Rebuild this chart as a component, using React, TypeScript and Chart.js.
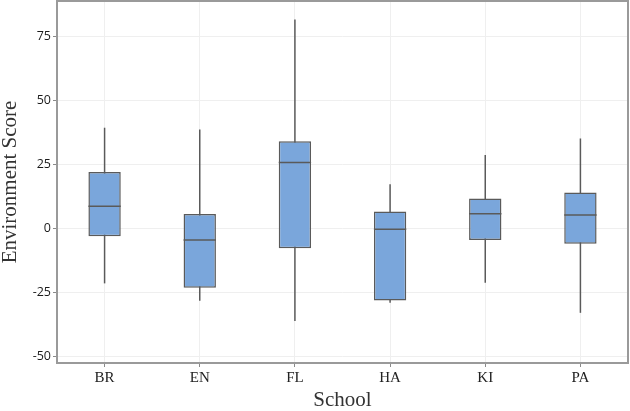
import React, { useEffect, useRef } from "react";
import { Chart, registerables } from "chart.js";

Chart.register(...registerables);

const categories = ["BR", "EN", "FL", "HA", "KI", "PA"];
const whiskerLow = [-21.6, -28.4, -36.3, -29.2, -21.4, -33.1];
const q1 = [-3.2, -23.3, -7.9, -28.3, -4.7, -6.1];
const median = [8.5, -4.7, 25.6, -0.5, 5.6, 5.1];
const q3 = [21.9, 5.5, 33.9, 6.5, 11.6, 13.9];
const whiskerHigh = [39.2, 38.5, 81.5, 17.1, 28.5, 35.0];
const yTicks = [-50, -25, 0, 25, 50, 75];

const LINE = "#5a5a5a";

const boxPlugin = {
  id: "boxParts",
  beforeDatasetsDraw(chart: any) {
    const { ctx, scales } = chart;
    const meta = chart.getDatasetMeta(0);
    ctx.save();
    ctx.strokeStyle = LINE;
    ctx.lineWidth = 1.5;
    meta.data.forEach((bar: any, i: number) => {
      const x = bar.x;
      ctx.beginPath();
      ctx.moveTo(x, scales.y.getPixelForValue(whiskerLow[i]));
      ctx.lineTo(x, scales.y.getPixelForValue(whiskerHigh[i]));
      ctx.stroke();
    });
    ctx.restore();
  },
  afterDatasetsDraw(chart: any) {
    const { ctx, scales, chartArea } = chart;
    const meta = chart.getDatasetMeta(0);
    ctx.save();
    ctx.strokeStyle = LINE;
    ctx.lineWidth = 1.5;
    meta.data.forEach((bar: any, i: number) => {
      const y = scales.y.getPixelForValue(median[i]);
      ctx.beginPath();
      ctx.moveTo(bar.x - bar.width / 2, y);
      ctx.lineTo(bar.x + bar.width / 2, y);
      ctx.stroke();
    });
    ctx.strokeStyle = "#9a9a9a";
    ctx.lineWidth = 2;
    ctx.strokeRect(
      chartArea.left,
      chartArea.top,
      chartArea.right - chartArea.left,
      chartArea.bottom - chartArea.top
    );
    ctx.restore();
  },
};

export default function App() {
  const ref = useRef<HTMLCanvasElement | null>(null);

  useEffect(() => {
    document.body.style.margin = "0";
    const chart = new Chart(ref.current as HTMLCanvasElement, {
      type: "bar",
      data: {
        labels: categories,
        datasets: [
          {
            label: "Environment Score",
            data: categories.map((_, i) => [q1[i], q3[i]]) as any,
            backgroundColor: "#7aa6db",
            borderColor: LINE,
            borderWidth: 1.5,
            borderSkipped: false,
            barPercentage: 0.34,
            categoryPercentage: 1,
          },
        ],
      },
      options: {
        animation: false,
        responsive: true,
        maintainAspectRatio: false,
        layout: { padding: { top: 1, right: 2, left: 0, bottom: 0 } },
        plugins: {
          legend: { display: false },
          tooltip: { enabled: false },
        },
        scales: {
          x: {
            offset: true,
            grid: {
              offset: false,
              color: "#efefef",
              tickColor: "#8a8a8a",
              tickLength: 4,
            },
            border: { display: false },
            ticks: {
              color: "#222",
              padding: 2,
              font: { family: "'Liberation Serif', 'Times New Roman', serif", size: 15 },
            },
            title: {
              display: true,
              text: "School",
              color: "#333",
              padding: { top: 0, bottom: 0 },
              font: { family: "'Liberation Serif', 'Times New Roman', serif", size: 21, lineHeight: 1 },
            },
            afterFit(scale: any) {
              scale.height = 48;
              scale.paddingLeft = 0;
              scale.paddingRight = 0;
            },
          },
          y: {
            min: -52.7,
            max: 88.7,
            afterBuildTicks(scale: any) {
              scale.ticks = yTicks.map((v) => ({ value: v }));
            },
            grid: {
              color: "#efefef",
              tickColor: "#8a8a8a",
              tickLength: 4,
            },
            border: { display: false },
            ticks: {
              color: "#1a1a1a",
              padding: 2,
              font: { family: "'Open Sans', sans-serif", size: 12.5 },
            },
            title: {
              display: true,
              text: "Environment Score",
              color: "#333",
              padding: { top: 0, bottom: 0 },
              font: { family: "'Liberation Serif', 'Times New Roman', serif", size: 21, lineHeight: 1 },
            },
            afterFit(scale: any) {
              scale.width = 57;
              scale.paddingTop = 0;
              scale.paddingBottom = 0;
            },
          },
        },
      },
      plugins: [boxPlugin],
    });
    return () => chart.destroy();
  }, []);

  return (
    <div style={{ position: "absolute", left: 0, top: 0, width: 630, height: 411 }}>
      <canvas ref={ref} />
    </div>
  );
}
